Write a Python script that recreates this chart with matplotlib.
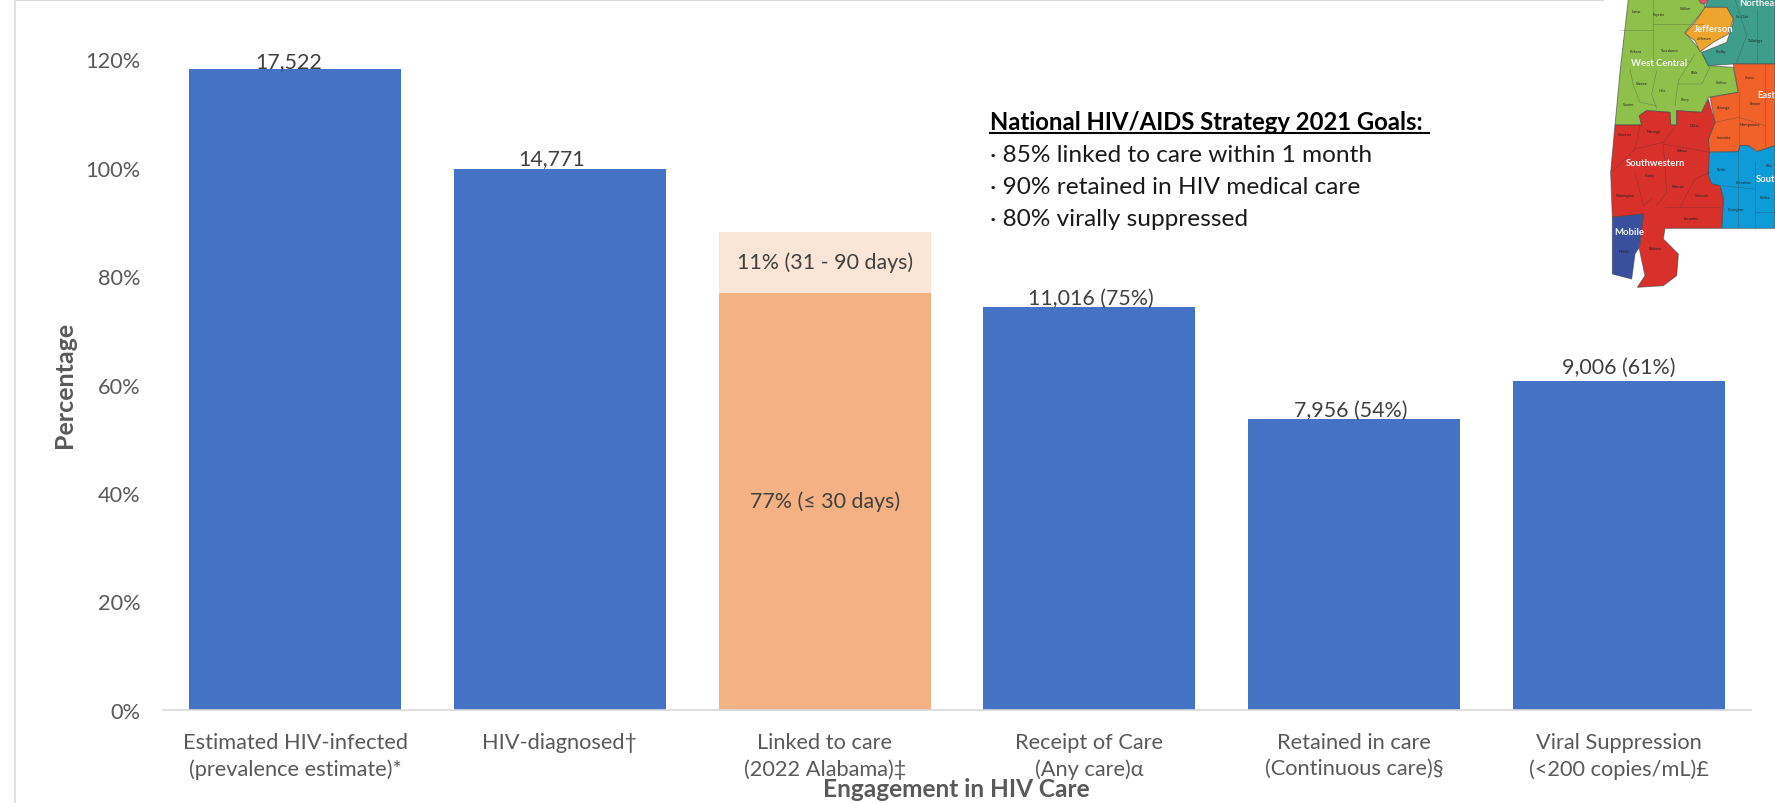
import matplotlib
matplotlib.use('Agg')
import matplotlib.pyplot as plt
from matplotlib.lines import Line2D
from matplotlib.patches import Polygon

plt.rcParams['font.family'] = ['Lato', 'DejaVu Sans']

categories = ['Estimated HIV-infected\n(prevalence estimate)*', 'HIV-diagnosed†',
              'Linked to care\n(2022 Alabama)‡', 'Receipt of Care\n(Any care)α',
              'Retained in care\n(Continuous care)§', 'Viral Suppression\n(<200 copies/mL)£']
blue_values = [118.2, 99.8, 0, 74.2, 53.6, 60.7]
bar_labels = ['17,522', '14,771', '', '11,016 (75%)', '7,956 (54%)', '9,006 (61%)']
linked_30 = 76.9
linked_90 = 11.3
y_ticks = [0, 20, 40, 60, 80, 100, 120]

goals_title = 'National HIV/AIDS Strategy 2021 Goals:'
goals = ['· 85% linked to care within 1 month', '· 90% retained in HIV medical care', '· 80% virally suppressed']

# map regions, traced in crop pixels of the top right corner
map_regions = {
    '#8fc04c': [(145, 0), (370, 0), (375, 30), (340, 70), (315, 100), (365, 160), (385, 200), (460, 205),
                (475, 280), (385, 295), (365, 340), (290, 335), (290, 378), (272, 378), (270, 340), (200, 335),
                (178, 350), (185, 378), (105, 378), (120, 220)],
    '#3f9d8c': [(385, 0), (585, 0), (585, 195), (460, 195), (385, 200), (365, 160), (440, 130), (460, 70), (440, 25), (375, 25)],
    '#eda52e': [(375, 25), (440, 25), (460, 60), (445, 105), (400, 130), (360, 158), (345, 125), (315, 103), (345, 70)],
    '#f0622a': [(460, 195), (585, 195), (585, 440), (535, 458), (505, 440), (480, 440), (475, 458), (388, 458),
                (385, 420), (405, 370), (390, 295), (475, 280)],
    '#0f9bd7': [(385, 460), (475, 458), (480, 440), (505, 440), (530, 458), (585, 440), (585, 688), (425, 688),
                (430, 600), (420, 560), (395, 555), (385, 530)],
    '#d8302b': [(105, 378), (185, 378), (178, 350), (200, 335), (270, 340), (272, 378), (290, 378), (290, 335),
                (365, 340), (385, 300), (405, 370), (385, 420), (388, 458), (385, 530), (395, 555), (420, 560),
                (430, 600), (425, 688), (255, 688), (250, 720), (295, 765), (290, 830), (250, 860), (172, 865),
                (195, 830), (178, 750), (190, 645), (97, 655), (92, 520)],
    '#39509f': [(97, 655), (190, 645), (178, 745), (165, 765), (155, 840), (97, 825)],
    '#e8506a': [(355, 0), (385, 0), (375, 15), (362, 12)],
}
map_names = [('Northeast', 478, 10), ('Jefferson', 342, 88), ('West Central', 152, 190), ('East', 532, 285),
             ('Southwestern', 138, 490), ('South', 528, 540), ('Mobile', 103, 698)]
county_names = [('Lamar', 168, 35), ('Fayette', 235, 45), ('Walker', 316, 28), ('Pickens', 168, 155),
                ('Tuscaloosa', 270, 153), ('Bibb', 342, 218), ('Greene', 186, 252), ('Hale', 248, 274),
                ('Sumter', 146, 316), ('Perry', 316, 299), ('Chilton', 424, 250), ('Jefferson', 372, 118),
                ('St. Clair', 486, 52), ('Shelby', 425, 157), ('Talladega', 525, 124), ('Coosa', 508, 233),
                ('Autauga', 432, 324), ('Elmore', 526, 312), ('Montgomery', 510, 376), ('Lowndes', 431, 415),
                ('Dallas', 343, 378), ('Marengo', 222, 396), ('Choctaw', 135, 405), ('Wilcox', 307, 454),
                ('Clarke', 210, 529), ('Monroe', 293, 562), ('Washington', 138, 589), ('Conecuh', 365, 587),
                ('Escambia', 333, 657), ('Baldwin', 224, 748), ('Mobile', 131, 757), ('Butler', 425, 510),
                ('Crenshaw', 492, 548), ('Covington', 469, 631), ('Coffee', 557, 593), ('Pike', 568, 497)]
county_lines = [[(120, 92), (218, 92), (218, 0)], [(218, 92), (218, 185), (330, 185)], [(218, 75), (370, 75)],
                [(150, 210), (160, 260), (180, 310), (230, 320)], [(230, 215), (215, 285), (230, 330)],
                [(345, 165), (295, 245), (285, 320)], [(295, 255), (365, 255), (390, 205)],
                [(180, 378), (165, 450), (95, 520)], [(280, 390), (250, 430), (165, 450)],
                [(250, 435), (390, 460)], [(165, 520), (190, 620), (215, 600)], [(250, 435), (260, 580), (230, 620)],
                [(300, 625), (345, 540), (390, 520)], [(255, 625), (420, 625)], [(480, 280), (478, 370), (480, 440)],
                [(405, 370), (478, 355), (555, 380)], [(555, 195), (555, 440)], [(475, 458), (475, 688)],
                [(525, 490), (525, 688)], [(425, 560), (520, 570)], [(525, 640), (585, 640)],
                [(465, 0), (500, 110), (470, 190)], [(530, 30), (530, 190)]]

W, H = 1775, 804
fig = plt.figure(figsize=(W / 100, H / 100), dpi=100)
ax = fig.add_axes([163 / W, 1 - 711 / H, 1588 / W, 651 / H])

x = range(len(categories))
ax.bar(x, blue_values, width=0.8, color='#4472c4')
ax.bar(2, linked_30, width=0.8, color='#f4b183')
ax.bar(2, linked_90, width=0.8, bottom=linked_30, color='#fbe5d6')

label_shift_x = [-4.5, -6, 0, 1, -2, 0]
label_shift_y = [-1.5, 0, 0, -0.5, -0.5, 3]
for i, lab in enumerate(bar_labels):
    ax.annotate(lab, (i, blue_values[i]), xytext=(label_shift_x[i], label_shift_y[i]), textcoords='offset points',
                ha='center', va='bottom', fontsize=15.4, color='#404040')
ax.text(2, linked_30 + linked_90 / 2, '11% (31 - 90 days)', ha='center', va='center', fontsize=15.4, color='#404040')
ax.text(2, 38.5, '77% (≤ 30 days)', ha='center', va='center', fontsize=15.4, color='#404040')

ax.set_xlim(-0.5, 5.5)
ax.set_ylim(0, 120)
ax.set_yticks(y_ticks)
ax.set_yticklabels([f'{v}%' for v in y_ticks], fontsize=15.7, color='#595959')
ax.set_xticks(list(x))
ax.set_xticklabels(categories, fontsize=15.7, color='#595959', linespacing=1.35)
ax.tick_params(length=0)
ax.tick_params(axis='x', pad=16)
ax.tick_params(axis='y', pad=16)
for s in ['top', 'right', 'left']:
    ax.spines[s].set_visible(False)
ax.spines['bottom'].set_color('#d9d9d9')
ax.spines['bottom'].set_linewidth(1.2)

fig.text(64 / W, 1 - 385 / H, 'Percentage', rotation=90, ha='center', va='center', fontsize=18, fontweight='bold', color='#595959')
fig.text(956 / W, 1 - 790 / H, 'Engagement in HIV Care', ha='center', va='center', fontsize=17.6, fontweight='bold', color='#595959')

# goals box
fig.text(990 / W, 1 - 122 / H, goals_title, ha='left', va='center', fontsize=17.2, fontweight='bold', color='black')
fig.add_artist(Line2D([990 / W, 1429 / W], [1 - 134 / H, 1 - 134 / H], color='black', lw=1.5))
for i, g in enumerate(goals):
    fig.text(990 / W, 1 - (155 + i * 32.5) / H, g, ha='left', va='center', fontsize=17.6, color='#1a1a1a')

# chart frame
fig.add_artist(Line2D([15 / W, 15 / W], [0, 1], color='#d9d9d9', lw=1.2))
fig.add_artist(Line2D([15 / W, 1603 / W], [1 - 1 / H, 1 - 1 / H], color='#d9d9d9', lw=1.5))

# Alabama map in the corner
map_ax = fig.add_axes([1580 / W, 1 - 300 / H, 195 / W, 300 / H])
map_ax.set_xlim(0, 585)
map_ax.set_ylim(900, 0)
map_ax.axis('off')
for color, pts in map_regions.items():
    map_ax.add_patch(Polygon(pts, closed=True, facecolor=color, edgecolor='#44444499', lw=0.7))
for pts in county_lines:
    map_ax.plot([p[0] for p in pts], [p[1] for p in pts], color='#33333366', lw=0.4)
for name, mx, my in county_names:
    map_ax.text(mx, my, name, ha='center', va='center', fontsize=2.6, color='#222222', clip_on=True)
for name, mx, my in map_names:
    map_ax.text(mx, my, name, ha='left', va='center', fontsize=6.8, fontweight='bold', color='#f4f4f4', clip_on=True)

fig.savefig('out.png', dpi=100)
